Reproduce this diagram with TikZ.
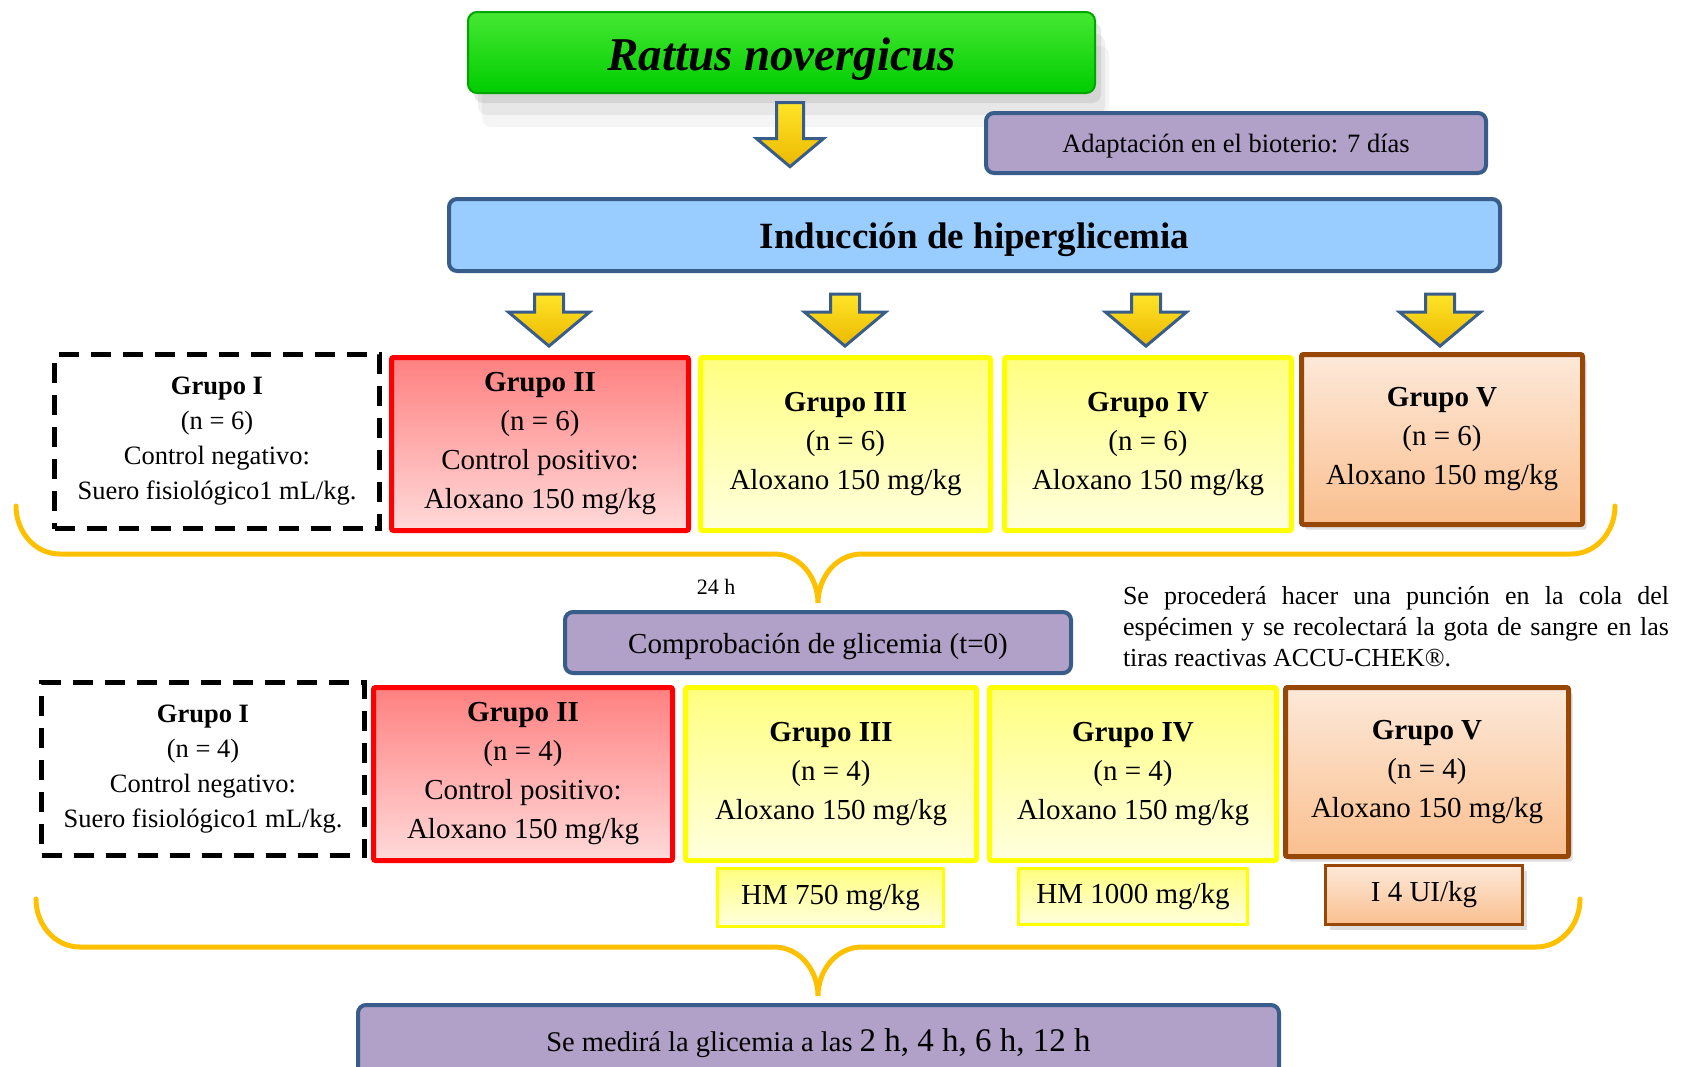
\documentclass[tikz,border=0pt]{standalone}
\usepackage{fontspec}
\setmainfont{Liberation Serif}
\usetikzlibrary{shapes.arrows,shadows}

\definecolor{verde1}{RGB}{70,232,50}
\definecolor{verde2}{RGB}{0,205,0}
\definecolor{verdeborde}{RGB}{0,165,0}
\definecolor{morado}{RGB}{177,160,199}
\definecolor{azulborde}{RGB}{56,93,138}
\definecolor{celeste}{RGB}{153,204,255}
\definecolor{rojoborde}{RGB}{255,0,0}
\definecolor{rojo1}{RGB}{255,128,128}
\definecolor{rojo2}{RGB}{255,218,218}
\definecolor{amarilloborde}{RGB}{255,255,0}
\definecolor{amarillo1}{RGB}{255,255,128}
\definecolor{amarillo2}{RGB}{255,255,222}
\definecolor{cafeborde}{RGB}{152,72,6}
\definecolor{naranja1}{RGB}{253,233,217}
\definecolor{naranja2}{RGB}{250,191,143}
\definecolor{llave}{RGB}{255,192,0}
\definecolor{oro1}{RGB}{255,228,40}
\definecolor{oro2}{RGB}{235,185,0}

\tikzset{
  texto/.style={font=\fontsize{29}{39}\selectfont, align=center, inner sep=0pt},
  grupoI/.style={texto, draw=black, line width=5pt, dash pattern=on 20pt off 12pt,
    font=\fontsize{26.5}{35}\selectfont},
  grupoII/.style={texto, draw=rojoborde, line width=5pt, rounded corners=2pt,
    top color=rojo1, bottom color=rojo2},
  grupoIII/.style={texto, draw=amarilloborde, line width=5pt, rounded corners=2pt,
    top color=amarillo1, bottom color=amarillo2},
  grupoV/.style={texto, draw=cafeborde, line width=5pt, rounded corners=2pt,
    top color=naranja1, bottom color=naranja2,
    drop shadow={shadow xshift=4pt, shadow yshift=-5pt, opacity=0.25}},
  caja/.style={draw=azulborde, line width=4pt, fill=morado, rounded corners=8pt,
    inner sep=0pt, font=\fontsize{26.5}{32}\selectfont},
  flecha/.style={single arrow, shape border rotate=270, draw=azulborde, line width=3pt,
    top color=oro1, bottom color=oro2, inner sep=13pt, single arrow tip angle=100,
    single arrow head extend=26pt},
  llavestyle/.style={draw=llave, line width=5pt, line cap=round}
}

\begin{document}
\begin{tikzpicture}[x=1pt,y=-1pt]
\useasboundingbox (0,0) rectangle (1688,1066);

% especie y adaptacion
\node[draw=verdeborde, line width=2pt, top color=verde1, bottom color=verde2, rounded corners=9pt,
  minimum width=627pt, minimum height=81pt, inner sep=0pt,
  font=\fontsize{47}{50}\selectfont\bfseries\itshape,
  drop shadow={shadow xshift=14pt, shadow yshift=-34pt, opacity=0.08},
  drop shadow={shadow xshift=10pt, shadow yshift=-22pt, opacity=0.12},
  drop shadow={shadow xshift=6pt, shadow yshift=-10pt, opacity=0.18}]
  (rattus) at (781.5,52.5) {\raisebox{-7pt}[\height][\depth]{Rattus novergicus}};
\node[flecha, minimum height=64pt, inner sep=12pt, single arrow head extend=20pt] (f0) at (790,129) {};
\node[caja, minimum width=500pt, minimum height=60pt] (adapt) at (1236,143)
  {\raisebox{-3pt}[\height][\depth]{Adaptación en el bioterio: 7 días}};

% induccion
\node[caja, fill=celeste, minimum width=1051pt, minimum height=72pt,
  font=\fontsize{37}{40}\selectfont\bfseries] (induc) at (974.5,235)
  {\raisebox{-5pt}[\height][\depth]{Inducción de hiperglicemia}};
\node[flecha, minimum height=52pt] (f1) at (549,314) {};
\node[flecha, minimum height=52pt] (f2) at (845,314) {};
\node[flecha, minimum height=52pt] (f3) at (1146,314) {};
\node[flecha, minimum height=52pt] (f4) at (1440,314) {};

% grupos n = 6
\node[grupoI, minimum width=325pt, minimum height=174pt] (g1a) at (217,441.5)
  {\textbf{Grupo I}\\(n = 6)\\Control negativo:\\Suero fisiológico1 mL/kg.};
\node[grupoII, minimum width=297pt, minimum height=173pt] (g2a) at (540,444)
  {\textbf{Grupo II}\\(n = 6)\\Control positivo:\\Aloxano 150 mg/kg};
\node[grupoIII, minimum width=290pt, minimum height=173pt] (g3a) at (845.5,444)
  {\textbf{Grupo III}\\(n = 6)\\Aloxano 150 mg/kg};
\node[grupoIII, minimum width=287pt, minimum height=173pt] (g4a) at (1148,444)
  {\textbf{Grupo IV}\\(n = 6)\\Aloxano 150 mg/kg};
\node[grupoV, minimum width=281pt, minimum height=170pt] (g5a) at (1442,439.5)
  {\textbf{Grupo V}\\(n = 6)\\Aloxano 150 mg/kg};

\draw[llavestyle] (16,506) to[out=-90,in=180] (60,554) -- (774,554) to[out=0,in=90] (818,603)
  to[out=90,in=180] (862,554) -- (1571,554) to[out=0,in=-90] (1615,506);

% comprobacion
\node[font=\fontsize{22}{24}\selectfont] (t24) at (716,587) {24 h};
\node[caja, minimum width=506pt, minimum height=61pt, font=\fontsize{29}{32}\selectfont]
  (comprob) at (818,642.5) {\raisebox{-4pt}[\height][\depth]{Comprobación de glicemia (t=0)}};
\node[inner sep=0pt, align=left, font=\fontsize{26}{31}\selectfont] (nota) at (1396,627)
  {\makebox[546pt][s]{Se procederá hacer una punción en la cola del}\\
   \makebox[546pt][s]{espécimen y se recolectará la gota de sangre en las}\\
   tiras reactivas ACCU-CHEK®.};

% grupos n = 4
\node[grupoI, minimum width=323pt, minimum height=173pt] (g1b) at (203,769)
  {\textbf{Grupo I}\\(n = 4)\\Control negativo:\\Suero fisiológico1 mL/kg.};
\node[grupoII, minimum width=299pt, minimum height=173pt] (g2b) at (523,774)
  {\textbf{Grupo II}\\(n = 4)\\Control positivo:\\Aloxano 150 mg/kg};
\node[grupoIII, minimum width=291pt, minimum height=173pt] (g3b) at (831,774)
  {\textbf{Grupo III}\\(n = 4)\\Aloxano 150 mg/kg};
\node[grupoIII, minimum width=287pt, minimum height=173pt] (g4b) at (1133,774)
  {\textbf{Grupo IV}\\(n = 4)\\Aloxano 150 mg/kg};
\node[grupoV, minimum width=283pt, minimum height=169pt] (g5b) at (1427,772)
  {\textbf{Grupo V}\\(n = 4)\\Aloxano 150 mg/kg};

\node[grupoIII, line width=3pt, rounded corners=0pt, minimum width=226pt, minimum height=58pt] (hm750) at (830.5,897.5) {HM 750 mg/kg};
\node[grupoIII, line width=3pt, rounded corners=0pt, minimum width=229pt, minimum height=56pt] (hm1000) at (1133,896.5) {HM 1000 mg/kg};
\node[grupoV, line width=3pt, rounded corners=0pt, minimum width=197pt, minimum height=59pt] (insul) at (1424,895) {I 4 UI/kg};

\draw[llavestyle] (36,899) to[out=-90,in=180] (80,947) -- (774,947) to[out=0,in=90] (818,996)
  to[out=90,in=180] (862,947) -- (1536,947) to[out=0,in=-90] (1580,899);

% medicion final
\node[caja, minimum width=921pt, minimum height=70pt, font=\fontsize{28.5}{32}\selectfont]
  (final) at (818.5,1040) {\raisebox{-3pt}[\height][\depth]{Se medirá la glicemia a las {\fontsize{33}{36}\selectfont 2 h, 4 h, 6 h, 12 h}}};

\end{tikzpicture}
\end{document}
